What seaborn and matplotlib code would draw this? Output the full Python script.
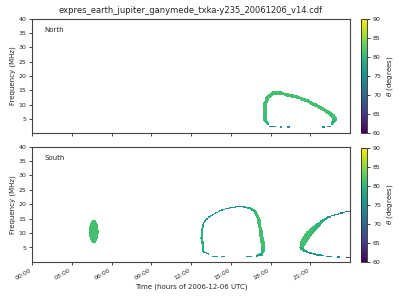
import numpy as np
import matplotlib
matplotlib.use("Agg")
import matplotlib.pyplot as plt
import seaborn as sns

# ---------------- data ----------------
TITLE = "expres_earth_jupiter_ganymede_txka-y235_20061206_v14.cdf"
hour_ticks = [0, 3, 6, 9, 12, 15, 18, 21]
hour_labels = ["00:00", "03:00", "06:00", "09:00", "12:00", "15:00", "18:00", "21:00"]
freq_ticks = [5, 10, 15, 20, 25, 30, 35, 40]
theta_ticks = [60, 65, 70, 75, 80, 85, 90]
panel_names = ["North", "South"]

# North hemisphere emission (hours, MHz, theta deg)
north_arc_t = [17.80, 17.60, 17.55, 17.55, 17.80, 18.26, 18.87, 19.47, 20.08, 20.68, 21.28, 21.74, 22.26, 22.72, 22.87, 22.64]
north_arc_f = [3.3, 4.6, 6.5, 9.9, 12.7, 14.1, 13.9, 13.2, 12.5, 11.5, 10.1, 9.0, 7.6, 6.1, 4.8, 3.4]
north_arc_theta = [78, 80, 81, 81, 81, 81, 81, 81, 81, 81, 81, 81, 81, 81, 81, 79]
north_low_t = [17.95, 18.05, np.nan, 18.20, 18.45, np.nan, 18.70, 18.90, np.nan, 19.25, 19.45, np.nan, 21.90, 22.10, np.nan, 22.30, 22.55]
north_low_f = [2.4, 2.3, np.nan, 2.2, 2.1, np.nan, 2.1, 2.1, np.nan, 2.1, 2.1, np.nan, 2.1, 2.1, np.nan, 2.2, 2.4]
north_low_theta = [76] * 17

# South hemisphere emissions
south_blob_t = [4.66, 4.66, 4.66, 4.66, 4.66]
south_blob_f = [7.4, 9.0, 10.5, 12.0, 13.8]
south_blob_theta = [81, 81, 81, 81, 81]

south_loop_t = [13.31, 12.93, 12.81, 12.85, 13.00, 13.31, 13.81, 14.32, 14.82, 15.45, 15.95, 16.45, 16.83, 17.08, 17.21, 17.34, 17.43, 17.34, 16.96]
south_loop_f = [2.7, 3.6, 8.2, 11.7, 14.0, 15.4, 16.9, 18.0, 18.6, 19.2, 19.2, 18.6, 17.5, 15.2, 11.7, 8.2, 4.7, 2.7, 2.1]
south_loop_theta = [76, 78, 80, 79, 77, 76, 76, 75, 75, 75, 76, 78, 80, 81, 81, 81, 81, 79, 76]
south_loop_low_t = [13.66, 13.96, np.nan, 14.34, 14.57, np.nan, 16.20, 16.58]
south_loop_low_f = [1.9, 1.9, np.nan, 1.8, 1.8, np.nan, 1.8, 1.8]
south_loop_low_theta = [76] * 8

south_arc_t = [20.34, 20.53, 20.79, 21.11, 21.49, 21.86, 22.24, 22.62, 23.12, 23.62, 24.00]
south_arc_f = [5.0, 7.3, 9.2, 10.8, 12.4, 14.0, 15.2, 16.0, 16.7, 17.3, 17.7]
south_arc_theta = [80, 81, 81, 81, 80, 79, 77, 75, 74, 73, 72]
south_arc_low_t = [20.34, 20.73, 21.20, 21.74, 21.95, np.nan, 22.24, 22.62, np.nan, 22.99, 23.25, np.nan, 23.75, 24.00]
south_arc_low_f = [4.5, 3.5, 2.8, 2.3, 2.2, np.nan, 1.9, 1.9, np.nan, 1.7, 1.7, np.nan, 1.6, 1.6]
south_arc_low_theta = [79, 77, 76, 76, 76, np.nan, 75, 75, np.nan, 74, 74, np.nan, 66, 66]

# ---------------- style (half-widths of the emission traces, px) ----------------
north_arc_w = [1.3, 1.8, 2.0, 2.0, 2.0, 1.9, 1.8, 1.7, 1.7, 1.7, 1.8, 1.9, 2.0, 2.2, 2.2, 1.5]
north_low_w = [0.6] * 17
south_blob_w = [2.6, 4.6, 5.0, 4.6, 2.6]
south_loop_w = [0.8, 1.0, 1.2, 1.0, 0.8, 0.7, 0.6, 0.6, 0.6, 0.7, 0.8, 1.2, 1.5, 1.7, 1.8, 2.0, 2.2, 1.5, 0.8]
south_loop_low_w = [0.6] * 8
south_arc_w = [2.3, 3.2, 3.3, 3.0, 2.3, 1.6, 1.0, 0.7, 0.6, 0.6, 0.6]
south_arc_low_w = [1.5, 1.0, 0.8, 0.7, 0.7, np.nan, 0.6, 0.6, np.nan, 0.6, 0.6, np.nan, 0.6, 0.6]

T_STEP, F_STEP = 0.05, 0.2
T_EDGES = np.arange(0, 24 + T_STEP / 2, T_STEP)
F_EDGES = np.arange(0, 40 + F_STEP / 2, F_STEP)
TC = (T_EDGES[:-1] + T_EDGES[1:]) / 2
FC = (F_EDGES[:-1] + F_EDGES[1:]) / 2
SX, SY = 13.25, 2.87  # display px per hour / per MHz


def rasterize(features):
    Z = np.full((len(FC), len(TC)), np.nan)
    for t, f, th, w in features:
        t, f, th, w = (np.asarray(v, float) for v in (t, f, th, w))
        for i in range(len(t) - 1):
            if np.isnan(t[i]) or np.isnan(t[i + 1]):
                continue
            L = np.hypot((t[i + 1] - t[i]) * SX, (f[i + 1] - f[i]) * SY)
            n = max(2, int(L / 0.25) + 1)
            for a in np.linspace(0, 1, n):
                ts = t[i] + a * (t[i + 1] - t[i])
                fs = f[i] + a * (f[i + 1] - f[i])
                thv = th[i] + a * (th[i + 1] - th[i])
                r = w[i] + a * (w[i + 1] - w[i])
                ti0 = max(0, int((ts - r / SX) / T_STEP) - 2)
                ti1 = min(len(TC), int((ts + r / SX) / T_STEP) + 3)
                fi0 = max(0, int((fs - r / SY) / F_STEP) - 2)
                fi1 = min(len(FC), int((fs + r / SY) / F_STEP) + 3)
                tt = TC[ti0:ti1][None, :]
                ff = FC[fi0:fi1][:, None]
                d2 = ((tt - ts) * SX) ** 2 + ((ff - fs) * SY) ** 2
                sub = Z[fi0:fi1, ti0:ti1]
                sub[d2 <= r * r] = thv
    return np.ma.masked_invalid(Z)


north_features = [
    (north_arc_t, north_arc_f, north_arc_theta, north_arc_w),
    (north_low_t, north_low_f, north_low_theta, north_low_w),
]
south_features = [
    (south_blob_t, south_blob_f, south_blob_theta, south_blob_w),
    (south_loop_t, south_loop_f, south_loop_theta, south_loop_w),
    (south_loop_low_t, south_loop_low_f, south_loop_low_theta, south_loop_low_w),
    (south_arc_t, south_arc_f, south_arc_theta, south_arc_w),
    (south_arc_low_t, south_arc_low_f, south_arc_low_theta, south_arc_low_w),
]

# ---------------- figure ----------------
sns.set_theme(style="ticks")
plt.rcParams["font.family"] = ["DejaVu Sans"]
cmap = sns.color_palette("viridis", as_cmap=True)

fig = plt.figure(figsize=(4, 3), dpi=100)
ax1 = fig.add_axes([0.08, 0.556, 0.795, 0.381])
ax2 = fig.add_axes([0.08, 0.127, 0.795, 0.384])
cax1 = fig.add_axes([0.902, 0.558, 0.0165, 0.379])
cax2 = fig.add_axes([0.902, 0.128, 0.0165, 0.380])

for ax, cax, feats, name in [(ax1, cax1, north_features, panel_names[0]),
                             (ax2, cax2, south_features, panel_names[1])]:
    Z = rasterize(feats)
    mesh = ax.pcolormesh(T_EDGES, F_EDGES, Z, cmap=cmap, vmin=60, vmax=90,
                         shading="flat", rasterized=True)
    ax.set_xlim(0, 24)
    ax.set_ylim(0, 40)
    ax.set_xticks(hour_ticks)
    ax.set_yticks(freq_ticks)
    ax.set_ylabel("Frequency (MHz)", fontsize=5, labelpad=2)
    ax.tick_params(labelsize=4.5, length=2.5, width=0.6, pad=1.5)
    for s in ax.spines.values():
        s.set_linewidth(0.8)
        s.set_color("#444444")
    ax.text(0.04, 0.905, name, transform=ax.transAxes, fontsize=5, va="center", ha="left")
    cb = fig.colorbar(mesh, cax=cax, ticks=theta_ticks)
    cb.outline.set_linewidth(0.6)
    cax.tick_params(labelsize=4.5, length=2.5, width=0.6, pad=1.5)
    cax.set_ylabel(r"$\theta$ (degrees)", fontsize=5, labelpad=3)

ax1.set_xticklabels([])
ax2.set_xticklabels(hour_labels, rotation=30, ha="right")
ax2.set_xlabel("Time (hours of 2006-12-06 UTC)", fontsize=5, labelpad=2)
ax1.set_title(TITLE, fontsize=6.0, pad=4)

fig.savefig("out.png", dpi=100)
